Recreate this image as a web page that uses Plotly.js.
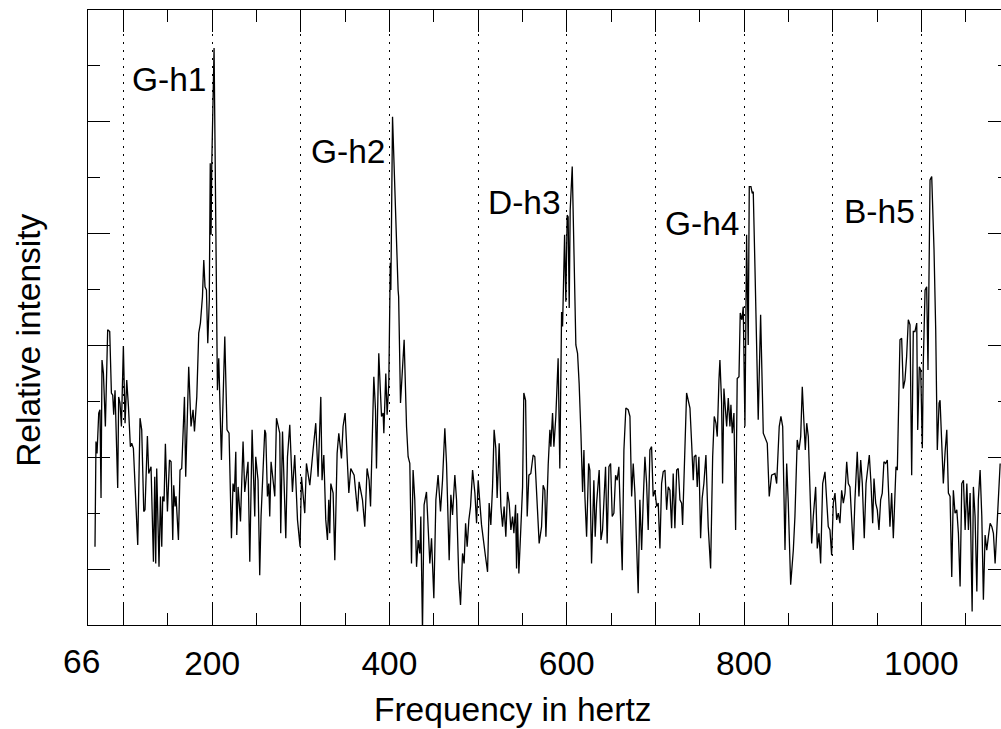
<!DOCTYPE html>
<html>
<head>
<meta charset="utf-8">
<script src="https://cdn.plot.ly/plotly-3.0.1.min.js"></script>
<style>
html, body { margin: 0; padding: 0; width: 1001px; height: 729px; overflow: hidden; background: #fff; }
#chart { width: 1010px; height: 729px; }
</style>
</head>
<body>
<div id="chart"></div>
<script>
// Frequency (Hz) of each spectrum sample
const freqHz = [
67.9,69.0,70.2,72.1,73.5,74.7,75.8,77.4,79.6,82.2,84.5,86.4,87.9,89.0,90.5,93.5,94.6,96.1,97.7,99.9,
101.8,103.7,105.6,107.8,109.3,111.2,116.1,118.7,120.6,122.9,124.3,127.0,128.5,131.1,133.8,135.3,136.4,137.5,140.1,141.7,
143.2,144.3,145.8,147.3,149.6,151.9,153.7,155.6,156.7,158.2,159.3,162.0,163.8,165.7,168.8,170.2,173.6,176.2,178.5,180.1,
182.7,184.9,186.8,189.1,190.6,192.0,193.6,195.1,196.8,197.9,198.8,199.6,202.2,204.9,206.0,207.5,210.5,214.3,216.8,219.1,
219.9,221.8,223.6,225.2,226.7,227.8,229.3,232.0,234.9,236.8,240.5,242.5,245.1,248.1,249.2,251.8,253.7,255.2,259.4,260.5,
262.4,263.9,265.0,266.5,270.7,272.6,276.3,277.4,279.4,283.1,285.0,287.6,290.6,293.2,296.3,299.2,300.8,304.5,306.4,310.2,
313.9,316.9,319.5,322.6,324.0,326.0,328.2,330.1,331.6,332.7,333.9,336.5,338.4,341.0,342.9,345.9,347.7,350.0,354.2,356.4,
360.2,362.1,364.0,365.8,369.6,372.2,374.8,377.1,378.7,382.4,384.3,385.4,388.0,389.9,391.1,392.9,393.7,395.9,397.4,399.3,
400.4,401.0,401.6,403.5,409.8,410.4,412.5,414.8,416.6,419.3,421.1,423.0,424.9,426.7,428.6,430.6,432.4,434.3,435.4,437.3,
439.1,441.8,443.7,445.6,447.5,450.1,452.4,454.9,457.6,459.9,462.5,464.4,467.4,469.3,471.2,473.8,475.7,478.3,480.2,482.5,
484.3,485.9,487.7,489.6,491.5,493.8,496.4,498.3,500.1,502.0,503.9,508.4,510.7,512.5,514.4,516.3,518.1,520.0,521.5,523.8,
525.7,527.6,529.4,531.3,533.2,535.1,537.0,538.9,540.4,542.3,543.4,544.5,546.0,548.3,550.2,551.6,553.6,555.4,557.3,559.5,
562.1,564.0,566.0,568.9,571.6,573.4,575.3,576.5,579.1,581.0,582.1,584.0,585.5,587.7,590.3,592.2,594.2,595.3,597.6,599.0,
600.5,601.6,602.8,603.9,606.2,608.1,610.3,612.2,614.0,616.0,617.9,619.4,620.5,622.4,624.7,626.1,628.0,630.6,632.1,633.7,
636.6,638.6,640.4,643.8,645.6,647.6,649.5,651.3,653.2,655.1,656.9,658.8,660.8,662.6,664.5,666.7,669.3,671.3,673.2,675.0,
676.9,678.8,680.6,682.5,684.5,686.3,688.2,690.1,691.9,693.8,695.7,697.5,699.5,701.4,703.2,705.1,707.0,708.8,710.8,712.7,
714.5,716.4,718.3,720.1,722.0,724.0,725.8,727.7,729.6,730.7,733.3,735.2,737.0,739.0,740.9,742.7,743.8,745.7,747.2,749.1,
751.0,752.8,754.7,757.0,759.6,762.3,764.6,766.4,768.3,769.8,771.7,772.8,774.7,775.8,777.3,778.8,780.4,782.2,784.1,785.2,
786.7,788.6,790.5,792.3,794.3,795.7,797.6,799.1,801.0,802.9,804.7,805.9,807.8,809.3,810.4,812.3,816.0,818.7,821.7,826.2,
828.4,831.1,834.9,836.8,839.7,841.6,843.6,846.2,848.1,849.9,852.6,855.6,857.4,860.0,862.0,863.9,865.7,867.6,869.1,870.7,
872.5,874.4,876.3,878.1,880.8,882.6,884.5,886.4,888.7,891.3,893.2,895.0,896.9,898.8,900.7,902.6,904.5,906.3,908.2,910.1,
912.0,913.9,915.8,917.6,919.5,921.5,923.2,925.1,927.7,929.6,931.6,933.4,935.6,937.6,939.5,941.3,943.2,945.1,946.6,948.5,
950.3,952.2,954.1,955.9,957.8,959.7,961.6,962.7,964.6,966.5,968.4,971.4,972.9,975.9,977.8,979.6,981.5,983.4,985.3,987.2,
989.1,990.9,992.8,994.8,995.9,997.7,999.3,1001.1,1002.2,1004.2,1006.0,1007.5,1009.8,1011.7,1014.3,1016.2,1018.0,1020.0,1021.1,1023.0,
1024.8,1026.8,1028.7,1030.5,1032.4,1034.3,1036.1,1038.0,1040.0,1041.8,1043.7,1045.6,1047.5,1049.4,1051.3,1053.1,1055.0,1057.3,1058.7,1060.6,
1062.6,1064.3,1066.3,1068.2,1070.0,1071.9,1073.8,1075.6,1077.6,1079.5,1081.3,1083.2,1085.1,1086.9,1088.9
];

// Relative intensity of each sample (arbitrary units)
const intensity = [
1.40,3.28,3.07,3.79,3.85,2.27,4.74,4.50,3.55,5.28,5.25,4.15,4.11,3.76,4.20,2.45,4.08,3.97,3.55,4.99,
3.61,4.38,3.91,3.19,3.25,3.16,1.43,3.70,3.49,2.03,2.06,3.38,2.71,2.83,1.13,2.65,1.10,2.80,1.04,2.30,
1.40,2.30,2.21,3.24,2.03,2.95,2.92,1.52,2.50,2.12,2.30,1.52,2.77,2.80,4.08,2.65,4.62,3.55,3.85,3.46,
4.08,5.22,5.40,5.87,6.53,6.05,5.99,5.04,5.81,8.26,6.98,8.23,10.32,5.64,4.20,4.77,2.95,5.16,3.49,3.43,
2.95,1.55,2.53,2.38,3.10,1.61,2.47,1.85,3.28,2.38,2.92,1.13,3.49,1.94,3.01,2.59,0.89,1.94,3.49,3.43,
2.30,2.53,1.94,2.92,2.30,3.70,3.43,1.64,3.46,1.55,3.01,3.58,2.38,3.04,1.88,1.40,2.65,2.00,2.89,2.50,
3.13,3.61,2.65,4.08,2.59,3.04,1.88,1.52,2.24,1.64,2.53,2.36,1.16,3.07,3.43,2.98,3.55,3.79,2.36,2.80,
2.68,2.30,2.03,2.56,2.24,1.76,2.80,2.59,2.12,4.44,3.85,2.80,4.86,4.15,3.73,3.79,3.43,4.50,3.76,4.32,
5.90,6.48,5.99,9.09,5.99,5.87,3.97,4.56,5.10,3.55,3.01,2.89,1.10,2.77,2.24,1.04,1.52,1.28,1.94,-0.10,
2.15,2.38,1.70,1.10,1.55,0.48,2.24,2.68,2.03,2.59,3.52,2.89,1.16,2.33,1.97,2.68,2.24,0.81,0.36,1.28,
1.10,1.82,1.40,1.88,2.12,2.77,2.36,1.82,2.59,2.24,1.79,1.22,0.95,2.18,1.79,2.47,3.49,3.16,2.27,3.25,
2.12,1.76,2.12,1.58,2.38,2.18,1.70,1.94,1.64,2.15,1.01,2.00,0.92,1.76,2.47,4.15,4.02,1.94,2.68,2.71,
3.04,3.01,2.36,1.46,1.76,2.50,2.41,1.58,2.86,3.49,3.19,3.79,3.19,3.73,4.77,2.80,5.60,5.34,6.98,5.78,
7.33,7.30,5.67,7.42,8.20,6.77,5.01,4.86,4.32,3.43,2.38,3.13,2.30,1.58,2.89,2.77,1.10,2.59,1.58,2.18,
2.77,1.52,1.70,2.83,1.46,2.83,2.89,1.94,2.00,2.68,2.59,2.83,1.94,0.98,3.13,3.88,3.85,3.73,2.30,2.89,
2.36,1.34,0.57,2.24,1.34,2.24,3.01,2.53,1.70,3.13,3.19,2.30,2.41,2.12,2.18,1.37,2.53,2.74,2.77,2.06,
2.47,2.41,1.73,2.71,1.73,2.77,2.80,2.24,2.18,1.79,3.13,4.15,4.02,3.88,3.25,2.59,3.01,3.04,2.47,3.01,
1.55,2.27,2.53,3.04,1.76,1.01,3.01,3.73,3.61,3.37,4.38,4.74,3.97,2.53,4.23,3.85,3.55,4.06,3.55,3.94,
3.43,3.79,1.70,4.41,4.44,5.58,5.46,5.69,3.55,6.98,5.01,7.84,7.84,7.72,7.75,6.41,3.67,5.55,3.43,3.25,
2.30,2.68,2.71,2.53,3.55,3.73,3.55,1.34,2.89,2.18,0.72,1.34,1.94,3.31,3.13,3.37,4.26,3.61,3.13,3.61,
3.37,2.41,1.46,1.94,2.47,1.37,1.64,1.10,2.53,2.74,2.18,1.76,1.70,1.25,2.18,2.36,1.88,2.00,1.82,2.41,
2.18,2.36,2.92,2.53,2.47,1.94,1.34,2.24,3.10,2.30,2.95,2.53,1.55,2.53,2.77,3.04,2.53,1.82,2.62,2.18,
2.06,1.70,2.24,2.36,2.92,2.89,2.95,2.59,1.76,2.36,1.55,2.83,2.77,5.10,5.13,4.23,4.38,4.80,5.46,5.37,
2.68,5.25,5.25,5.40,3.49,4.62,4.56,3.16,4.68,5.99,6.05,4.56,7.96,8.02,6.71,5.28,3.13,3.97,4.02,3.25,
2.53,3.10,3.49,2.36,2.30,0.86,2.41,2.00,2.06,1.64,0.69,2.53,2.59,1.70,2.53,1.70,2.36,0.24,2.47,1.94,
0.60,2.24,2.77,1.94,0.45,1.61,1.34,1.58,1.82,1.76,1.64,1.10,1.64,2.24,2.89
];

// Axis ticks
const xRange = [60, 1100];
const xTickVals = [100, 200, 300, 400, 500, 600, 700, 800, 900, 1000];
const xTickText = ['', '200', '', '400', '', '600', '', '800', '', '1000'];
const xMinorVals = [150, 250, 350, 450, 550, 650, 750, 850, 950, 1050];
const xStartLabel = '66';
const yRange = [0, 11];
const yTickVals = [1, 3, 5, 7, 9];
const yMinorVals = [2, 4, 6, 8, 10];

// Harmonic peak labels
const peakLabels = ['G-h1', 'G-h2', 'D-h3', 'G-h4', 'B-h5'];
const peakLabelFreq = [151.6, 352.8, 552.0, 752.7, 952.8];
const peakLabelLevel = [9.76, 8.47, 7.56, 7.18, 7.39];

const xTitle = 'Frequency in hertz';
const yTitle = 'Relative intensity';

const FONT = 'Liberation Sans, Arial, Helvetica, sans-serif';
const FS = 33.5;

const trace = {
  x: freqHz,
  y: intensity,
  type: 'scatter',
  mode: 'lines',
  line: { color: '#000', width: 1.3 },
  hoverinfo: 'skip'
};

const annotations = peakLabels.map((t, i) => ({
  text: t, x: peakLabelFreq[i], y: peakLabelLevel[i], xref: 'x', yref: 'y',
  showarrow: false, xanchor: 'center', yanchor: 'middle',
  font: { family: FONT, size: FS, color: '#000' }
}));

annotations.push({
  text: xStartLabel, x: xRange[0], y: 0, xref: 'x', yref: 'paper',
  xanchor: 'center', yanchor: 'middle', xshift: -6.6, yshift: -36.3,
  showarrow: false, font: { family: FONT, size: FS, color: '#000' }
});
annotations.push({
  text: xTitle, x: 0.46, y: 0, xref: 'paper', yref: 'paper',
  xanchor: 'center', yanchor: 'middle', yshift: -84.3,
  showarrow: false, font: { family: FONT, size: FS, color: '#000' }
});
annotations.push({
  text: yTitle, x: 0, y: 0.462, xref: 'paper', yref: 'paper',
  xanchor: 'center', yanchor: 'middle', xshift: -59, textangle: -90,
  showarrow: false, font: { family: FONT, size: FS, color: '#000' }
});

const layout = {
  width: 1010, height: 729,
  margin: { l: 88, r: 0, t: 10, b: 104, pad: 0 },
  paper_bgcolor: '#fff', plot_bgcolor: '#fff',
  showlegend: false,
  font: { family: FONT, size: FS, color: '#000' },
  xaxis: {
    range: xRange, tickmode: 'array', tickvals: xTickVals, ticktext: xTickText,
    ticks: 'inside', ticklen: 22, tickwidth: 1, tickcolor: '#000',
    ticklabelstandoff: 9,
    showline: true, linecolor: '#000', linewidth: 1, mirror: 'ticks',
    showgrid: true, gridcolor: '#000', gridwidth: 1, griddash: '2px,6px',
    zeroline: false,
    tickfont: { family: FONT, size: FS, color: '#000' },
    minor: { tickmode: 'array', tickvals: xMinorVals, ticks: 'inside', ticklen: 12, tickwidth: 1, tickcolor: '#000', showgrid: false }
  },
  yaxis: {
    range: yRange, tickmode: 'array', tickvals: yTickVals, showticklabels: false,
    ticks: 'inside', ticklen: 22, tickwidth: 1, tickcolor: '#000',
    showline: true, linecolor: '#000', linewidth: 1, mirror: 'ticks',
    showgrid: false, zeroline: false,
    minor: { tickmode: 'array', tickvals: yMinorVals, ticks: 'inside', ticklen: 12, tickwidth: 1, tickcolor: '#000', showgrid: false }
  },
  annotations: annotations
};

Plotly.newPlot('chart', [trace], layout, { displayModeBar: false, staticPlot: true });
</script>
</body>
</html>
